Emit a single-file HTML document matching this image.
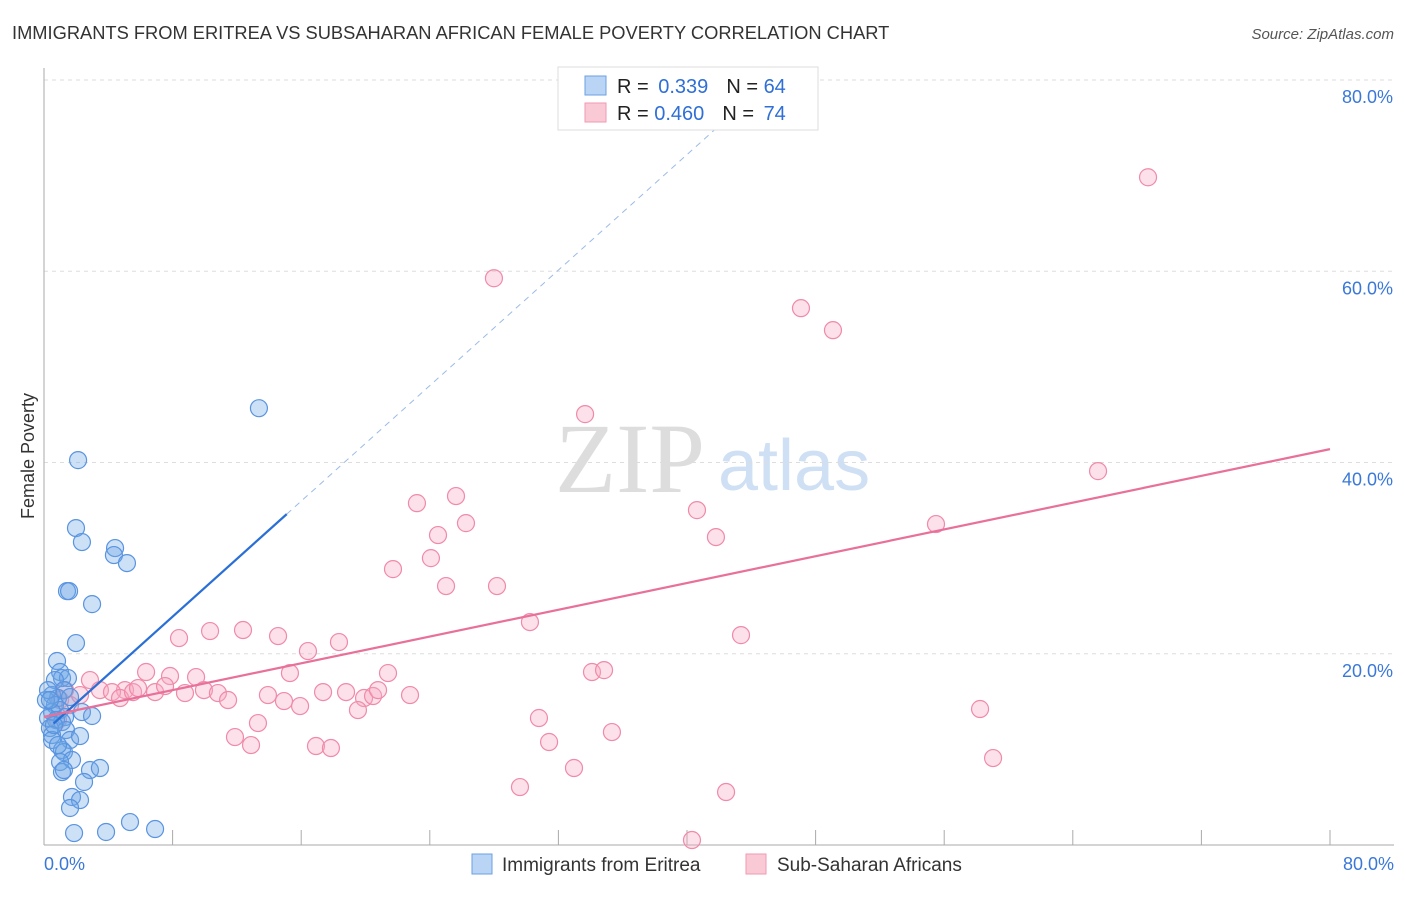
<!DOCTYPE html>
<html><head><meta charset="utf-8"><style>
body{margin:0;background:#fff;font-family:"Liberation Sans",sans-serif;}
</style></head><body>
<svg id="chart" width="1406" height="892" xmlns="http://www.w3.org/2000/svg" font-family="Liberation Sans, sans-serif">
<text x="12" y="39" font-size="18.3" fill="#333">IMMIGRANTS FROM ERITREA VS SUBSAHARAN AFRICAN FEMALE POVERTY CORRELATION CHART</text>
<text x="1394" y="39" font-size="15" fill="#555" text-anchor="end" font-style="italic">Source: ZipAtlas.com</text>
<text transform="translate(34,456) rotate(-90)" font-size="18" fill="#333" text-anchor="middle">Female Poverty</text>
<g>
<text x="555" y="492" font-size="100" fill="#ddd" font-family="Liberation Serif, serif">ZIP</text>
<text x="718" y="490" font-size="72" fill="#cfe0f4">atlas</text>
</g>
<g id="grid"></g>
<g id="marks"></g>
<g>
<rect x="558" y="67" width="260" height="63" fill="#fff" stroke="#ddd"/>
<rect x="585" y="76" width="21" height="19" fill="#b9d4f5" stroke="#6a9fe0"/>
<rect x="585" y="103" width="21" height="19" fill="#fac9d6" stroke="#ef9ab2"/>
<text x="617" y="93" font-size="20" fill="#222">R = <tspan dx="4" fill="#2f6fd6">0.339</tspan><tspan dx="18">N = </tspan><tspan fill="#2f6fd6">64</tspan></text>
<text x="617" y="120" font-size="20" fill="#222">R = <tspan fill="#2f6fd6">0.460</tspan><tspan dx="18">N = </tspan><tspan dx="4" fill="#2f6fd6">74</tspan></text>
</g>
<g>
<rect x="472" y="854" width="20" height="20" fill="#b9d4f5" stroke="#6a9fe0"/>
<text x="502" y="871" font-size="19" fill="#333">Immigrants from Eritrea</text>
<rect x="746" y="854" width="20" height="20" fill="#fac9d6" stroke="#ef9ab2"/>
<text x="777" y="871" font-size="19" fill="#333">Sub-Saharan Africans</text>
</g>
</svg>
<script>
const yTicks=[20,40,60,80];
const xTickLabels=["0.0%","80.0%"];
const blueX=[13.37,2.12,1.99,2.36,4.42,4.35,5.16,1.43,1.56,2.99,1.99,0.81,1.0,1.12,1.49,0.68,1.24,0.5,0.87,1.62,0.68,1.0,0.5,1.31,0.25,0.75,1.12,2.36,2.99,0.37,1.37,0.5,1.62,2.24,0.5,1.12,1.24,1.74,1.0,1.12,1.24,2.86,3.48,2.49,1.74,2.24,1.62,1.87,3.86,5.35,6.91,0.12,0.25,0.37,0.62,0.87];
const blueY=[45.68,40.25,33.14,31.68,31.05,30.32,29.48,26.55,26.55,25.19,21.12,19.24,18.09,17.46,17.46,17.25,16.2,15.68,15.37,15.47,14.64,14.11,13.9,13.38,13.28,13.07,12.86,13.9,13.49,12.23,12.02,11.5,10.98,11.39,10.98,9.93,9.72,8.89,8.68,7.63,7.84,7.84,8.05,6.59,5.02,4.7,3.87,1.25,1.36,2.4,1.67,15.16,16.2,15.16,12.54,10.45];
const pinkX=[68.68,27.99,47.09,49.08,33.66,65.57,23.2,25.63,26.25,40.62,24.51,41.8,55.49,21.71,24.07,25.01,28.18,30.23,43.36,8.4,10.33,12.38,14.56,18.35,16.42,6.35,7.84,9.46,15.3,21.4,34.09,34.84,2.86,3.48,5.04,4.23,4.73,5.54,5.85,6.91,7.53,8.77,9.95,10.82,11.45,13.93,14.93,15.93,17.36,18.79,19.91,20.47,20.78,22.77,19.53,13.31,11.88,12.88,16.92,17.85,30.79,31.42,35.33,32.97,29.61,42.43,40.31,58.23,59.04,1.0,1.62,0.87,1.31,2.24];
const pinkY=[69.83,59.27,56.14,53.84,45.06,39.1,35.75,36.49,33.66,35.02,32.41,32.2,33.56,28.85,30.0,27.08,27.08,23.31,21.95,21.64,22.37,22.48,21.85,21.22,20.28,18.09,17.67,17.56,17.98,17.98,18.09,18.29,17.25,16.2,16.2,15.99,15.37,15.99,16.41,15.99,16.62,15.89,16.2,15.89,15.16,15.68,15.05,14.53,15.99,15.99,15.37,15.58,16.2,15.68,14.11,12.75,11.29,10.45,10.35,10.14,13.28,10.77,11.81,8.05,6.06,5.54,0.52,14.22,9.09,15.16,14.64,13.07,16.2,15.68];
const blueFit=[11.8,1.51];
const pinkFit=[13.4,0.35];
const NS="http://www.w3.org/2000/svg";
const X0=44,X1=1330,Y0=845,Y80=80;
const sx=v=>X0+(v/80)*(X1-X0);
const sy=v=>Y0-(v/80)*(Y0-Y80);
function mk(tag,attrs,parent){const e=document.createElementNS(NS,tag);for(const k in attrs)e.setAttribute(k,attrs[k]);parent.appendChild(e);return e;}
const grid=document.getElementById('grid'),marks=document.getElementById('marks');
yTicks.forEach(t=>{
 const l=mk('line',{x1:X0,x2:1394,y1:sy(t),y2:sy(t),stroke:'#ddd','stroke-dasharray':'4,4'},grid);
 
 
 const tx=mk('text',{x:1393,y:sy(t)+23,'font-size':18,fill:'#3a78d8','text-anchor':'end'},grid);
 tx.textContent=t.toFixed(1)+'%';
 
 
});
const ax=mk('line',{x1:X0,x2:X0,y1:68,y2:Y0,stroke:'#aaa'},grid);


const bx=mk('line',{x1:X0,x2:1394,y1:Y0,y2:Y0,stroke:'#aaa'},grid);


for(let i=1;i<=10;i++){
 const v=i*8;
 const t=mk('line',{x1:sx(v),x2:sx(v),y1:830,y2:Y0,stroke:'#aaa'},grid);
 
 
}
[[0,'start',44],[80,'end',1394]].forEach((d,i)=>{
 const tx=mk('text',{x:d[2],y:870,'font-size':18,fill:'#3a78d8','text-anchor':d[1]},grid);
 tx.textContent=xTickLabels[i];
 
 
});
pinkX.forEach((x,i)=>{
 const c=mk('circle',{cx:sx(x),cy:sy(pinkY[i]),r:8.5,fill:'rgba(247,170,195,0.35)',stroke:'#f08aa8','stroke-width':1.2},marks);
 
 
});
blueX.forEach((x,i)=>{
 const c=mk('circle',{cx:sx(x),cy:sy(blueY[i]),r:8.5,fill:'rgba(110,165,230,0.35)',stroke:'#5a94e0','stroke-width':1.2},marks);
 
 
});
const bf=x=>blueFit[0]+blueFit[1]*x, pf=x=>pinkFit[0]+pinkFit[1]*x;
let l=mk('line',{x1:sx(0.6),y1:sy(bf(0.6)),x2:sx(15.1),y2:sy(bf(15.1)),stroke:'#2a6fd6','stroke-width':2.2},marks);


l=mk('line',{x1:sx(15.1),y1:sy(bf(15.1)),x2:sx(44),y2:sy(bf(44)),stroke:'#9bbbe8','stroke-width':1,'stroke-dasharray':'6,5'},marks);


l=mk('line',{x1:sx(0),y1:sy(pf(0)),x2:sx(80),y2:sy(pf(80)),stroke:'#e8709a','stroke-width':2.2},marks);


</script>
</body></html>
